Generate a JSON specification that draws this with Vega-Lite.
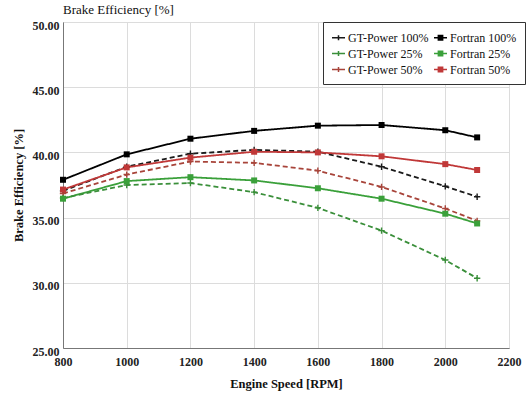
{
  "$schema": "https://vega.github.io/schema/vega-lite/v6.json",
  "width": 446,
  "height": 326,
  "autosize": "none",
  "padding": {"left": 63, "top": 22, "right": 21, "bottom": 46},
  "background": "white",
  "config": {
    "font": "Times New Roman",
    "view": {"stroke": "#888", "strokeWidth": 1},
    "axis": {
      "labelFont": "Times New Roman",
      "titleFont": "Times New Roman",
      "labelFontSize": 12,
      "labelFontWeight": "bold",
      "labelColor": "#222",
      "titleFontSize": 12.5,
      "titleFontWeight": "bold",
      "titleColor": "#111",
      "gridColor": "#dcdcdc",
      "domainColor": "#777",
      "ticks": false
    },
    "title": {"font": "Times New Roman", "fontSize": 13, "fontWeight": "normal", "color": "#111", "anchor": "start", "frame": "group", "offset": 2}
  },
  "title": "Brake Efficiency [%]",
  "data": {
    "values": [
      {"rpm": 800, "eff": 37.9, "series": "Fortran 100%", "model": "Fortran"},
      {"rpm": 1000, "eff": 39.85, "series": "Fortran 100%", "model": "Fortran"},
      {"rpm": 1200, "eff": 41.05, "series": "Fortran 100%", "model": "Fortran"},
      {"rpm": 1400, "eff": 41.65, "series": "Fortran 100%", "model": "Fortran"},
      {"rpm": 1600, "eff": 42.05, "series": "Fortran 100%", "model": "Fortran"},
      {"rpm": 1800, "eff": 42.1, "series": "Fortran 100%", "model": "Fortran"},
      {"rpm": 2000, "eff": 41.7, "series": "Fortran 100%", "model": "Fortran"},
      {"rpm": 2100, "eff": 41.15, "series": "Fortran 100%", "model": "Fortran"},
      {"rpm": 800, "eff": 37.05, "series": "GT-Power 100%", "model": "GT-Power"},
      {"rpm": 1000, "eff": 38.9, "series": "GT-Power 100%", "model": "GT-Power"},
      {"rpm": 1200, "eff": 39.9, "series": "GT-Power 100%", "model": "GT-Power"},
      {"rpm": 1400, "eff": 40.2, "series": "GT-Power 100%", "model": "GT-Power"},
      {"rpm": 1600, "eff": 40.05, "series": "GT-Power 100%", "model": "GT-Power"},
      {"rpm": 1800, "eff": 38.9, "series": "GT-Power 100%", "model": "GT-Power"},
      {"rpm": 2000, "eff": 37.4, "series": "GT-Power 100%", "model": "GT-Power"},
      {"rpm": 2100, "eff": 36.6, "series": "GT-Power 100%", "model": "GT-Power"},
      {"rpm": 800, "eff": 37.15, "series": "Fortran 50%", "model": "Fortran"},
      {"rpm": 1000, "eff": 38.85, "series": "Fortran 50%", "model": "Fortran"},
      {"rpm": 1200, "eff": 39.6, "series": "Fortran 50%", "model": "Fortran"},
      {"rpm": 1400, "eff": 40.05, "series": "Fortran 50%", "model": "Fortran"},
      {"rpm": 1600, "eff": 40.0, "series": "Fortran 50%", "model": "Fortran"},
      {"rpm": 1800, "eff": 39.7, "series": "Fortran 50%", "model": "Fortran"},
      {"rpm": 2000, "eff": 39.1, "series": "Fortran 50%", "model": "Fortran"},
      {"rpm": 2100, "eff": 38.65, "series": "Fortran 50%", "model": "Fortran"},
      {"rpm": 800, "eff": 36.85, "series": "GT-Power 50%", "model": "GT-Power"},
      {"rpm": 1000, "eff": 38.3, "series": "GT-Power 50%", "model": "GT-Power"},
      {"rpm": 1200, "eff": 39.3, "series": "GT-Power 50%", "model": "GT-Power"},
      {"rpm": 1400, "eff": 39.2, "series": "GT-Power 50%", "model": "GT-Power"},
      {"rpm": 1600, "eff": 38.6, "series": "GT-Power 50%", "model": "GT-Power"},
      {"rpm": 1800, "eff": 37.35, "series": "GT-Power 50%", "model": "GT-Power"},
      {"rpm": 2000, "eff": 35.7, "series": "GT-Power 50%", "model": "GT-Power"},
      {"rpm": 2100, "eff": 34.75, "series": "GT-Power 50%", "model": "GT-Power"},
      {"rpm": 800, "eff": 36.45, "series": "Fortran 25%", "model": "Fortran"},
      {"rpm": 1000, "eff": 37.8, "series": "Fortran 25%", "model": "Fortran"},
      {"rpm": 1200, "eff": 38.1, "series": "Fortran 25%", "model": "Fortran"},
      {"rpm": 1400, "eff": 37.85, "series": "Fortran 25%", "model": "Fortran"},
      {"rpm": 1600, "eff": 37.25, "series": "Fortran 25%", "model": "Fortran"},
      {"rpm": 1800, "eff": 36.45, "series": "Fortran 25%", "model": "Fortran"},
      {"rpm": 2000, "eff": 35.3, "series": "Fortran 25%", "model": "Fortran"},
      {"rpm": 2100, "eff": 34.55, "series": "Fortran 25%", "model": "Fortran"},
      {"rpm": 800, "eff": 36.5, "series": "GT-Power 25%", "model": "GT-Power"},
      {"rpm": 1000, "eff": 37.5, "series": "GT-Power 25%", "model": "GT-Power"},
      {"rpm": 1200, "eff": 37.65, "series": "GT-Power 25%", "model": "GT-Power"},
      {"rpm": 1400, "eff": 36.95, "series": "GT-Power 25%", "model": "GT-Power"},
      {"rpm": 1600, "eff": 35.75, "series": "GT-Power 25%", "model": "GT-Power"},
      {"rpm": 1800, "eff": 34.0, "series": "GT-Power 25%", "model": "GT-Power"},
      {"rpm": 2000, "eff": 31.75, "series": "GT-Power 25%", "model": "GT-Power"},
      {"rpm": 2100, "eff": 30.35, "series": "GT-Power 25%", "model": "GT-Power"}
    ]
  },
  "encoding": {
    "x": {
      "field": "rpm",
      "type": "quantitative",
      "scale": {"domain": [800, 2200], "nice": false},
      "axis": {"title": "Engine Speed [RPM]", "values": [800, 1000, 1200, 1400, 1600, 1800, 2000, 2200], "format": "d", "labelFlush": false, "labelPadding": 8, "titlePadding": 10}
    },
    "y": {
      "field": "eff",
      "type": "quantitative",
      "scale": {"domain": [25, 50], "nice": false, "zero": false},
      "axis": {"title": "Brake Efficiency [%]", "values": [25, 30, 35, 40, 45, 50], "format": ".2f", "labelPadding": 4, "labelOffset": 3, "titlePadding": 7}
    },
    "color": {
      "field": "series",
      "type": "nominal",
      "scale": {
        "domain": ["GT-Power 100%", "GT-Power 25%", "GT-Power 50%", "Fortran 100%", "Fortran 25%", "Fortran 50%"],
        "range": ["#1a1a1a", "#3a8f3a", "#a8443a", "#000000", "#3aa03a", "#c03838"]
      },
      "legend": {
        "title": null,
        "orient": "none",
        "legendX": 260,
        "legendY": 0,
        "columns": 2,
        "columnPadding": 2,
        "rowPadding": 2,
        "padding": 8,
        "fillColor": "white",
        "strokeColor": "#333",
        "labelFont": "Times New Roman",
        "labelFontSize": 12,
        "labelColor": "#111",
        "labelOffset": 2,
        "symbolSize": 169,
        "encode": {
          "symbols": {
            "update": {
              "shape": {"signal": "indexof(datum.value, 'GT') == 0 ? 'M-1,0H1M0,-0.38V0.38' : 'M-1,0H1M-0.33,-0.33H0.33V0.33H-0.33Z'"},
              "fill": {"signal": "scale('color', datum.value)"},
              "stroke": {"signal": "scale('color', datum.value)"},
              "strokeDash": {"value": []},
              "strokeWidth": {"value": 1.5},
              "opacity": {"value": 1}
            }
          }
        }
      }
    }
  },
  "layer": [
    {
      "mark": {"type": "line", "strokeWidth": 1.8},
      "encoding": {
        "strokeDash": {
          "field": "model",
          "type": "nominal",
          "scale": {"domain": ["GT-Power", "Fortran"], "range": [[5, 3], [1, 0]]},
          "legend": null
        }
      }
    },
    {
      "transform": [{"filter": "datum.model == 'GT-Power'"}],
      "mark": {"type": "point", "shape": "M-1,0H1M0,-1V1", "filled": false, "size": 40, "strokeWidth": 1.4, "opacity": 1}
    },
    {
      "transform": [{"filter": "datum.model == 'Fortran'"}],
      "mark": {"type": "point", "shape": "square", "filled": true, "size": 36, "opacity": 1}
    }
  ]
}
